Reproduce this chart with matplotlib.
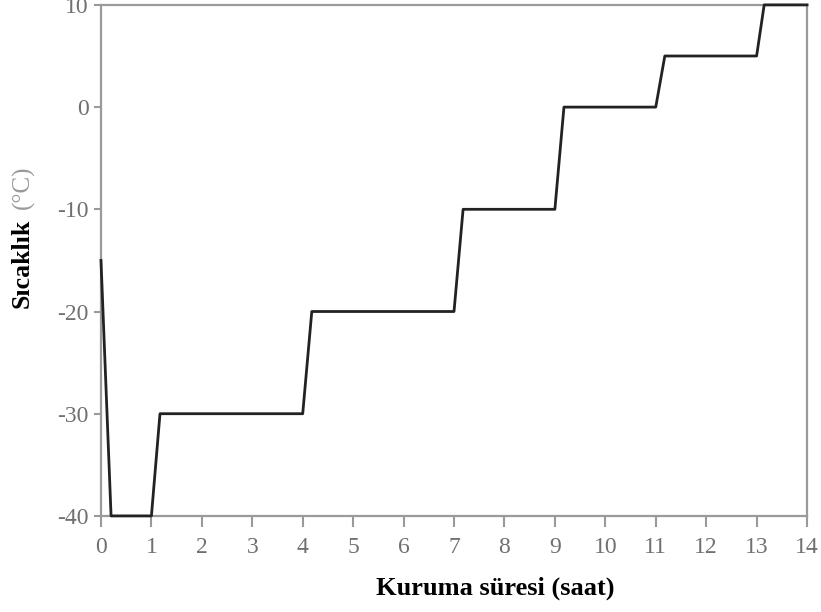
import matplotlib.pyplot as plt

plt.rcParams['font.family'] = ['Liberation Serif', 'DejaVu Serif']
plt.rcParams['axes.unicode_minus'] = False

# ===== veri =====
sure = [0, 0.2, 1, 1.17, 4, 4.18, 7, 7.18, 9, 9.18, 11, 11.18, 13, 13.15, 14]
sicaklik = [-15, -40, -40, -30, -30, -20, -20, -10, -10, 0, 0, 5, 5, 10, 10]
x_ticks = list(range(0, 15))
y_ticks = [-40, -30, -20, -10, 0, 10]

fig = plt.figure(figsize=(8.21, 6.12), dpi=100)
ax = fig.add_axes([0.123, 0.157, 0.860, 0.835])

ax.plot(sure, sicaklik, color="#222222", linewidth=2.0, clip_on=False, zorder=3)

ax.set_xlim(0, 14)
ax.set_ylim(-40, 10)
ax.set_xticks(x_ticks)
ax.set_yticks(y_ticks)

for s in ax.spines.values():
    s.set_color("#9a9a9a")
    s.set_linewidth(1.6)

ax.tick_params(axis="x", direction="out", length=8, width=1.5, color="#9a9a9a",
               labelsize=17, labelcolor="#707070", pad=7)
ax.tick_params(axis="y", direction="out", length=5, width=1.5, color="#9a9a9a",
               labelsize=17, labelcolor="#707070", pad=4)

fig.text(0.603, 0.038, "Kuruma süresi (saat)", ha="center", va="center",
         fontsize=19, fontweight="bold", color="black")
fig.text(0.027, 0.570, "Sıcaklık", ha="center", va="center", rotation=90,
         fontsize=18.5, fontweight="bold", color="black")
fig.text(0.029, 0.694, "(°C)", ha="center", va="center", rotation=90,
         fontsize=18, color="#9a9a9a")

fig.savefig("out.png", dpi=100)
